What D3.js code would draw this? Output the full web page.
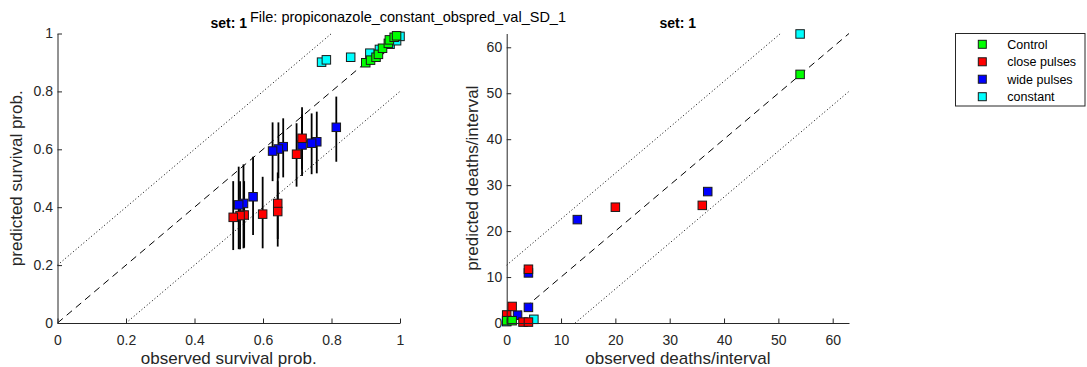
<!DOCTYPE html>
<html><head><meta charset="utf-8">
<script src="https://cdn.jsdelivr.net/npm/d3@7"></script>
<style>
html,body{margin:0;padding:0;background:#fff;}
text{font-family:"Liberation Sans",Arial,Helvetica,sans-serif;fill:#262626;}
</style></head>
<body><svg id="c" width="1087" height="367"></svg>
<script>
// ---------- data ----------
const categories = ["Control","close pulses","wide pulses","constant"];
const colors = ["#00ff00","#ff0000","#0000ff","#00ffff"];
const survTicks = [0,0.2,0.4,0.6,0.8,1];
const deathTicks = [0,10,20,30,40,50,60];

// survival probability: observed / predicted / CI
const controlSurvObs  = [0.900,0.914,0.930,0.937,0.949,0.966,0.969,0.983,0.990];
const controlSurvPred = [0.899,0.908,0.918,0.928,0.949,0.966,0.978,0.987,0.992];
const closeSurvObs  = [0.714,0.698,0.643,0.643,0.599,0.545,0.533,0.513];
const closeSurvPred = [0.638,0.583,0.413,0.385,0.376,0.373,0.371,0.365];
const closeSurvLo   = [0.530,0.471,0.290,0.264,0.258,0.260,0.255,0.252];
const closeSurvHi   = [0.745,0.690,0.520,0.490,0.505,0.490,0.490,0.490];
const wideSurvObs  = [0.814,0.757,0.742,0.714,0.659,0.645,0.628,0.571,0.543,0.529];
const wideSurvPred = [0.676,0.626,0.621,0.615,0.609,0.601,0.594,0.436,0.413,0.408];
const wideSurvLo   = [0.557,0.517,0.514,0.508,0.503,0.500,0.490,0.304,0.258,0.255];
const wideSurvHi   = [0.782,0.730,0.724,0.720,0.707,0.693,0.693,0.574,0.548,0.540];
const constantSurvObs  = [0.771,0.785,0.856,0.912,0.940,0.971,0.990,1.000];
const constantSurvPred = [0.901,0.909,0.918,0.932,0.945,0.963,0.975,0.990];

// deaths per interval: observed / predicted
const controlDeathObs  = [0,1,54];
const controlDeathPred = [0.5,0.5,54.1];
const closeDeathObs  = [36,20,4,1,0,3,4];
const closeDeathPred = [25.6,25.2,11.7,3.6,1.75,0.2,0.2];
const wideDeathObs  = [37,13,4,4,2,0];
const wideDeathPred = [28.6,22.5,10.9,3.4,1.7,0.6];
const constantDeathObs  = [54,5,0];
const constantDeathPred = [62.9,0.8,0.3];

const survLimit = 1, deathLimit = 63;

// ---------- build ----------
const zip = (o,p,lo,hi) => o.map((v,i)=>({o:v,p:p[i],lo:lo?lo[i]:null,hi:hi?hi[i]:null}));
const survSeries = [
  {ci:3, pts:zip(constantSurvObs,constantSurvPred)},
  {ci:2, pts:zip(wideSurvObs,wideSurvPred,wideSurvLo,wideSurvHi)},
  {ci:1, pts:zip(closeSurvObs,closeSurvPred,closeSurvLo,closeSurvHi)},
  {ci:0, pts:zip(controlSurvObs,controlSurvPred)}
];
const deathSeries = [
  {ci:3, pts:zip(constantDeathObs,constantDeathPred)},
  {ci:2, pts:zip(wideDeathObs,wideDeathPred)},
  {ci:1, pts:zip(closeDeathObs,closeDeathPred)},
  {ci:0, pts:zip(controlDeathObs,controlDeathPred)}
];

const svg = d3.select("#c");
const plotTop = 33.5, plotBottom = 323;
const MS = 8.5;

function panel(x0,x1,limit,ticks,series,xlab,ylab,ylabX,fmt){
  const x = d3.scaleLinear().domain([0,limit]).range([x0,x1]);
  const y = d3.scaleLinear().domain([0,limit]).range([plotBottom,plotTop]);
  const g = svg.append("g");
  const L = limit, off = 0.2*limit;
  const line = (a,b,c,d,dash)=>g.append("line").attr("x1",x(a)).attr("y1",y(b)).attr("x2",x(c)).attr("y2",y(d))
      .attr("stroke","#000").attr("stroke-width",1).attr("stroke-dasharray",dash);
  line(0,off,L-off,L,"1,2.4");
  line(off,0,L,L-off,"1,2.4");
  line(0,0,L,L,"7,5");
  series.forEach(s=>{
    s.pts.filter(d=>d.lo!==null).forEach(d=>{
      g.append("line").attr("x1",x(d.o)).attr("x2",x(d.o)).attr("y1",y(d.lo)).attr("y2",y(d.hi))
        .attr("stroke","#000").attr("stroke-width",1.8);
    });
  });
  series.forEach(s=>{
    g.selectAll(null).data(s.pts).enter().append("rect")
      .attr("x",d=>x(d.o)-MS/2).attr("y",d=>y(d.p)-MS/2).attr("width",MS).attr("height",MS)
      .attr("fill",colors[s.ci]).attr("stroke","#1a1a1a").attr("stroke-width",1);
  });
  const ax = g.append("g").attr("transform",`translate(0,${plotBottom})`)
    .call(d3.axisBottom(x).tickValues(ticks).tickFormat(fmt).tickSizeInner(-4.5).tickSizeOuter(0).tickPadding(12));
  const ay = g.append("g").attr("transform",`translate(${x0},0)`)
    .call(d3.axisLeft(y).tickValues(ticks).tickFormat(fmt).tickSizeInner(-4.5).tickSizeOuter(0).tickPadding(4.5));
  [ax,ay].forEach(a=>{
    a.selectAll("path,line").attr("stroke","#262626").attr("stroke-width",1);
    a.selectAll("text").attr("fill","#262626").style("font-size","14px").style("font-family","'Liberation Sans',Arial,sans-serif");
  });
  g.append("text").attr("x",(x0+x1)/2).attr("y",364).attr("text-anchor","middle")
    .style("font-size","17px").text(xlab);
  g.append("text").attr("transform",`translate(${ylabX},${(plotTop+plotBottom)/2}) rotate(-90)`).attr("text-anchor","middle")
    .style("font-size","17px").text(ylab);
  g.append("text").attr("x",(x0+x1)/2).attr("y",28).attr("text-anchor","middle")
    .style("font-size","14px").style("font-weight","bold").style("fill","#000").text("set: 1");
}

const survFmt = d => d===0||d===1 ? String(d) : d.toFixed(1);
panel(57.5,400,survLimit,survTicks,survSeries,"observed survival prob.","predicted survival prob.",22,survFmt);
panel(506.7,849,deathLimit,deathTicks,deathSeries,"observed deaths/interval","predicted deaths/interval",478,d=>String(d));

svg.append("text").attr("x",250).attr("y",22).style("font-size","14.5px").style("fill","#000")
  .text("File: propiconazole_constant_obspred_val_SD_1");

// legend
const lg = svg.append("g");
lg.append("rect").attr("x",955.5).attr("y",33.5).attr("width",129.5).attr("height",72.5)
  .attr("fill","#fff").attr("stroke","#262626").attr("stroke-width",1);
const ly = d3.scalePoint().domain(categories).range([44.3,96.7]);
categories.forEach((c,i)=>{
  lg.append("rect").attr("x",982.3-4).attr("y",ly(c)-4).attr("width",8).attr("height",8)
    .attr("fill",colors[i]).attr("stroke","#1a1a1a").attr("stroke-width",1);
  lg.append("text").attr("x",1007.3).attr("y",ly(c)).attr("dy","0.36em")
    .style("font-size","12.5px").style("fill","#000").text(c);
});
</script></body></html>
